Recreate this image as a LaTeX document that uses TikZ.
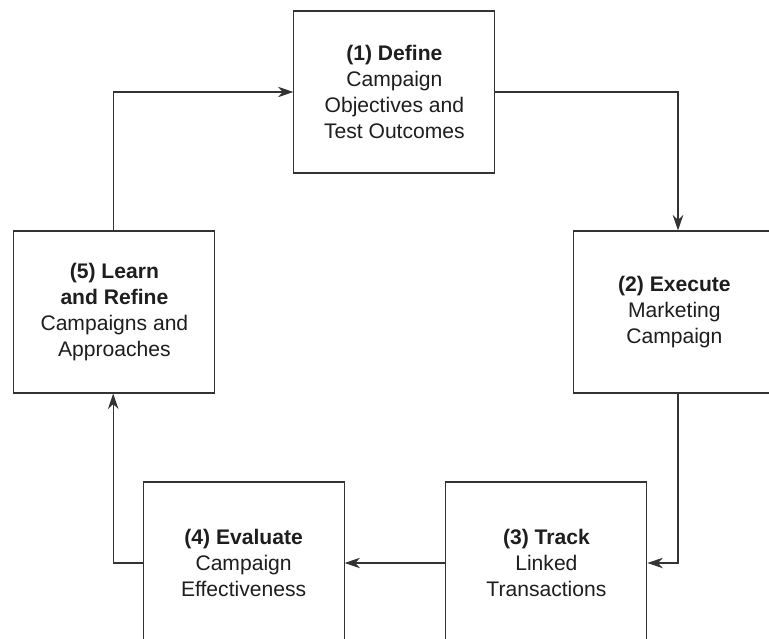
\documentclass[tikz,border=0pt]{standalone}
\usepackage{fontspec}
\setmainfont{Liberation Sans}
\usetikzlibrary{arrows.meta, positioning}
\definecolor{lineGray}{HTML}{333333}
\definecolor{textDark}{HTML}{1E1E1E}

\begin{document}
\begin{tikzpicture}[
  stage/.style={draw=lineGray, line width=0.8pt, fill=white, minimum width=5.025cm, minimum height=4.05cm, align=center, text=textDark, font=\fontsize{15}{18.3}\selectfont, inner sep=0pt},
  flow/.style={-{Stealth[length=11pt, width=7.5pt, inset=3.5pt]}, line width=0.8pt, lineGray}
]
\clip (0,0) rectangle (19.225,-15.975);

% Cycle stages
\node[stage] (define) at (9.86, -2.3) {\textbf{(1) Define}\\Campaign\\Objectives and\\Test Outcomes};
\node[stage] (execute) at (16.86, -7.8) {\textbf{(2) Execute}\\Marketing\\Campaign};
\node[stage] (track) at (13.66, -14.075) {\textbf{(3) Track}\\Linked\\Transactions};
\node[stage] (evaluate) at (6.09, -14.075) {\textbf{(4) Evaluate}\\Campaign\\Effectiveness};
\node[stage] (learn) at (2.86, -7.8) {\textbf{(5) Learn}\\\textbf{and Refine}\\Campaigns and\\Approaches};

% Connectors
\draw[flow] (define.east) -| ([xshift=0.09cm]execute.north);
\draw[flow] ([xshift=0.09cm]execute.south) |- (track.east);
\draw[flow] (track.west) -- (evaluate.east);
\draw[flow] (evaluate.west) -| ([xshift=-0.03cm]learn.south);
\draw[flow] ([xshift=-0.03cm]learn.north) |- (define.west);
\end{tikzpicture}
\end{document}
